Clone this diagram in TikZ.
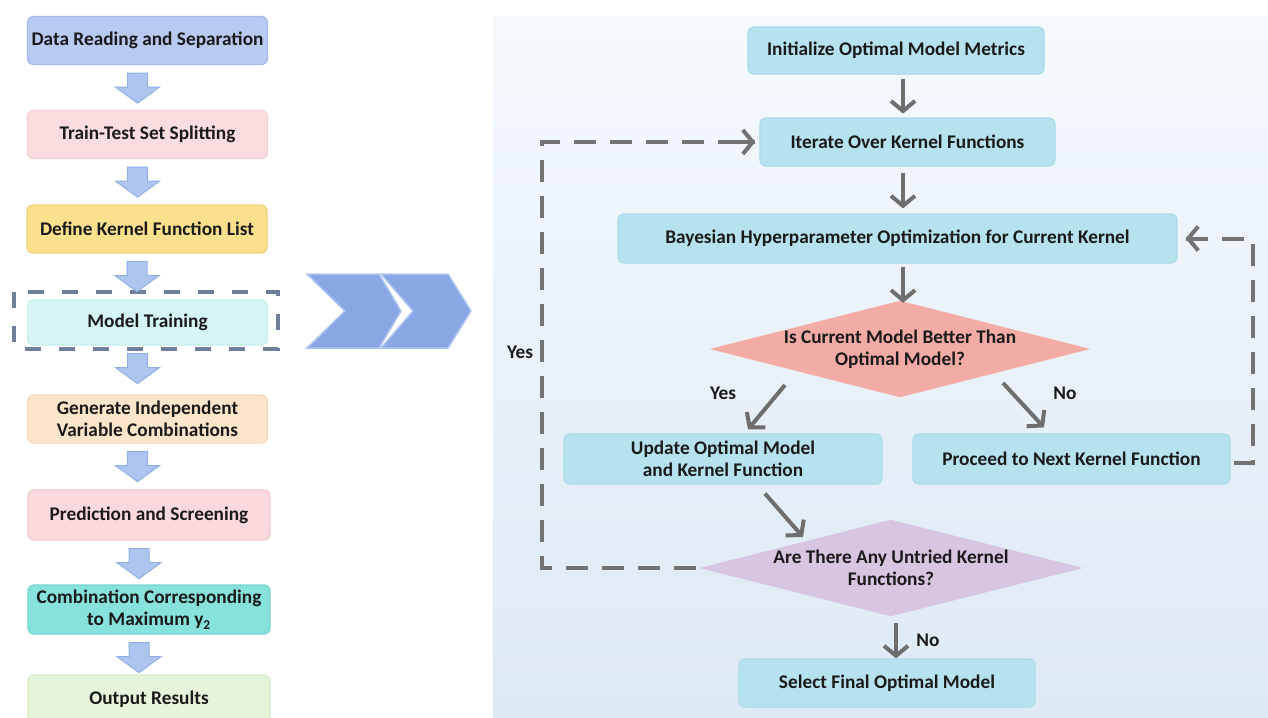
\documentclass[tikz,border=0pt]{standalone}
\usepackage{fontspec}
\setmainfont{Carlito}
\usetikzlibrary{arrows.meta,calc,backgrounds}
\definecolor{txt}{HTML}{1A1A1A}
\definecolor{bAf}{HTML}{B8C9F2}\definecolor{bAd}{HTML}{A6BBEC}
\definecolor{bBf}{HTML}{FBDDE0}\definecolor{bBd}{HTML}{F5CDD2}
\definecolor{bCf}{HTML}{FBE08E}\definecolor{bCd}{HTML}{F2D07A}
\definecolor{bDf}{HTML}{D5F5F4}\definecolor{bDd}{HTML}{C5EEEE}
\definecolor{bEf}{HTML}{FDE5CB}\definecolor{bEd}{HTML}{F6D8B8}
\definecolor{bFf}{HTML}{FBD9DC}\definecolor{bFd}{HTML}{F4C9CE}
\definecolor{bGf}{HTML}{87E1DC}\definecolor{bGd}{HTML}{74D6D1}
\definecolor{bHf}{HTML}{E5F4DA}\definecolor{bHd}{HTML}{D6EDC9}
\definecolor{blkf}{HTML}{AEC5EF}\definecolor{blkd}{HTML}{8FB0E2}
\definecolor{chvf}{HTML}{89A7E5}\definecolor{chvd}{HTML}{ADC4EF}
\definecolor{rf}{HTML}{B6E1EF}\definecolor{rd}{HTML}{A9DBEB}
\definecolor{dAf}{HTML}{F2ACA5}
\definecolor{dBf}{HTML}{D8C5E2}
\definecolor{agray}{HTML}{6E6E6E}
\definecolor{dgray}{HTML}{737373}
\definecolor{drect}{HTML}{6F7F99}
\definecolor{pantop}{HTML}{F4F9FD}
\definecolor{panbot}{HTML}{DDE9F5}
\newcommand\blkarr[1]{%
  \filldraw[blk] ($(#1.south)+(-20,8)$) -- ++(20,0) -- ++(0,14) -- ++(12,0)
    -- ++(-22,16) -- ++(-22,-16) -- ++(12,0) -- cycle;}
\begin{document}
\begin{tikzpicture}[x=1pt,y=-1pt,
  font=\fontsize{19.3}{22.5}\selectfont\bfseries,
  box/.style={rounded corners=6pt, line width=1.2pt, align=center, inner sep=2pt, text=txt},
  lbox/.style={box, minimum width=240pt, minimum height=48pt},
  rbox/.style={box, fill=rf, draw=rd},
  dtext/.style={align=center, text=txt, inner sep=0pt},
  blk/.style={fill=blkf, draw=blkd, line width=1pt},
  arr/.style={draw=agray, line width=4pt, -{Straight Barb[length=10pt,width=24pt,line width=4pt]}},
  dsh/.style={draw=dgray, line width=4pt, dash pattern=on 22pt off 14pt},
  lbl/.style={text=txt, inner sep=1pt}]
\useasboundingbox (0,0) rectangle (1268,717);

% ---------- left column ----------
\node[lbox, fill=bAf, draw=bAd] (b1) at (147.5,40.5) {Data Reading and Separation};
\node[lbox, fill=bBf, draw=bBd] (b2) at (147.5,134.5) {Train-Test Set Splitting};
\node[lbox, fill=bCf, draw=bCd] (b3) at (147,229) {Define Kernel Function List};
\node[lbox, fill=bDf, draw=bDd, minimum height=45pt] (b4) at (147.5,322.5) {Model Training};
\node[lbox, fill=bEf, draw=bEd] (b5) at (147.5,419) {Generate Independent\\Variable Combinations};
\node[lbox, fill=bFf, draw=bFd, minimum width=242pt, minimum height=50pt] (b6) at (149,515) {Prediction and Screening};
\node[lbox, fill=bGf, draw=bGd, minimum width=242pt, minimum height=49pt] (b7) at (149,609.5) {Combination Corresponding\\to Maximum y\textsubscript{2}};
\node[lbox, fill=bHf, draw=bHd, minimum width=242pt] (b8) at (149,699) {Output Results};
\draw[drect, line width=4pt, dash pattern=on 16pt off 18pt] (b4.center) ++(-133.5,-30.5) rectangle ++(264,57);
\blkarr{b1}\blkarr{b2}\blkarr{b3}\blkarr{b4}\blkarr{b5}\blkarr{b6}\blkarr{b7}

% ---------- chevrons ----------
\filldraw[fill=chvf, draw=chvd, line width=1.5pt] (307,274) -- (379,274) -- (401,311) -- (379,348) -- (307,348) -- (345,311) -- cycle;
\filldraw[fill=chvf, draw=chvd, line width=1.5pt] (381,274) -- (448,274) -- (471,311) -- (448,348) -- (381,348) -- (413,311) -- cycle;

% ---------- right panel ----------
\node[rbox, minimum width=296pt, minimum height=47pt] (init) at (896,50.5) {Initialize Optimal Model Metrics};
\node[rbox, minimum width=295pt, minimum height=48pt] (iter) at (907.5,142) {Iterate Over Kernel Functions};
\node[rbox, minimum width=559pt, minimum height=49pt] (bayes) at (897.5,238.5) {Bayesian Hyperparameter Optimization for Current Kernel};
\node[dtext, minimum width=380pt, minimum height=96pt] (d1) at (900,349) {Is Current Model Better Than\\Optimal Model?};
\node[rbox, minimum width=318pt, minimum height=50pt] (upd) at (723,459) {Update Optimal Model\\and Kernel Function};
\node[rbox, minimum width=317pt, minimum height=50pt] (proc) at (1071.5,459) {Proceed to Next Kernel Function};
\node[dtext, minimum width=383pt, minimum height=96pt] (d2) at (891,568) {Are There Any Untried Kernel\\Functions?};
\node[rbox, minimum width=296pt, minimum height=48pt] (sel) at (887,683) {Select Final Optimal Model};

\begin{scope}[on background layer]
  \shade[top color=pantop, bottom color=panbot] (493,17) rectangle (1268,717);
  \fill[dAf] (d1.west) -- (d1.north) -- (d1.east) -- (d1.south) -- cycle;
  \fill[dBf] (d2.west) -- (d2.north) -- (d2.east) -- (d2.south) -- cycle;
\end{scope}

% connectors
\draw[arr] ($(init.south)+(7,4)$) -- ($(init.south -| 903,0)+(0,39)$);
\draw[arr] ($(iter.south)+(-4.5,6)$) -- ($(bayes.north)+(5.5,-5)$);
\draw[arr] ($(bayes.south)+(5.5,3)$) -- ($(d1.north)+(3,2)$);
\draw[arr] ($(d1.center)+(-115,36)$) -- ($(upd.north)+(25,-4)$);
\draw[arr] ($(d1.center)+(103,34)$) -- ($(proc.north)+(-27.5,-6)$);
\draw[arr] ($(upd.south)+(42,9)$) -- ($(d2.center)+(-88,-31)$);
\draw[arr] ($(d2.south)+(5,7)$) -- ($(sel.north)+(9,0)$);

\node[lbl] (yA) at (723,393) {Yes};
\node[lbl] (nA) at (1065,393) {No};
\node[lbl] (nB) at (928,640) {No};
\node[lbl] (yB) at (520,352) {Yes};

% dashed loops
\coordinate (lc1) at ($(d2.west)+(-157,0)$);
\draw[dsh] ($(d2.west)+(-3,0)$) -- (lc1) -- (lc1 |- iter.west) -- ($(iter.west)+(-4,0)$);
\draw[draw=dgray, line width=4pt, -{Straight Barb[length=10pt,width=24pt,line width=4pt]}] ($(iter.west)+(-22,0)$) -- ($(iter.west)+(-4,0)$);
\coordinate (rc1) at ($(proc.east)+(22,4)$);
\draw[dsh] ($(proc.east)+(3,4)$) -- (rc1) -- (rc1 |- bayes.east) -- ($(bayes.east)+(8,0)$);
\draw[draw=dgray, line width=4pt, -{Straight Barb[length=10pt,width=24pt,line width=4pt]}] ($(bayes.east)+(28,0)$) -- ($(bayes.east)+(8,0)$);
\end{tikzpicture}
\end{document}
